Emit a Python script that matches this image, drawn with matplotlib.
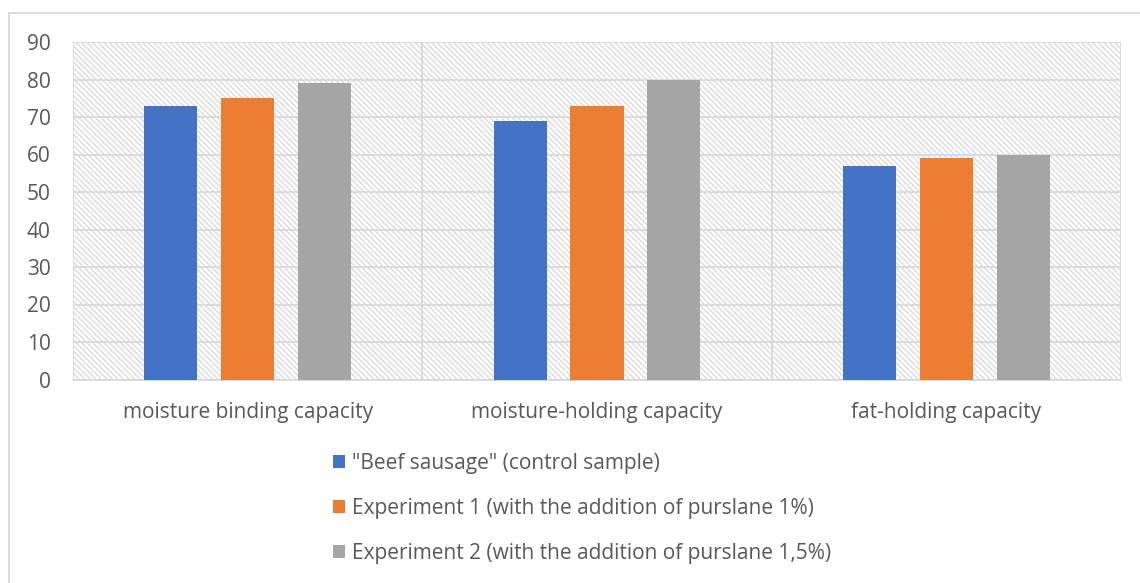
import matplotlib
matplotlib.use("Agg")
import matplotlib.pyplot as plt
import numpy as np
from matplotlib.patches import Rectangle, Patch
from matplotlib.lines import Line2D

categories = ["moisture binding capacity", "moisture-holding capacity", "fat-holding capacity"]
series_names = ['"Beef sausage" (control sample)',
                "Experiment 1 (with the addition of purslane 1%)",
                "Experiment 2 (with the addition of purslane 1,5%)"]
control = [73, 69, 57]
experiment1 = [75, 73, 59]
experiment2 = [79, 80, 60]
y_ticks = [0, 10, 20, 30, 40, 50, 60, 70, 80, 90]

colors = ["#4472C4", "#ED7D31", "#A5A5A5"]
grid_color = "#D9D9D9"
text_color = "#595959"

plt.rcParams["font.family"] = ["Open Sans", "DejaVu Sans"]
plt.rcParams["hatch.linewidth"] = 0.9

W, H = 1140, 583
fig = plt.figure(figsize=(W / 100, H / 100), dpi=100)
ax = fig.add_axes([73 / W, 1 - 379.5 / H, (1121 - 73) / W, (379.5 - 42) / H])

# hatched plot-area background
bg = Rectangle((0, 0), 1, 1, transform=ax.transAxes, facecolor="white",
               edgecolor="#D8D8D8", hatch="\\" * 6, linewidth=0, zorder=0)
ax.add_patch(bg)

x = np.arange(len(categories))
width = 0.152
step = 0.22
for i, vals in enumerate([control, experiment1, experiment2]):
    ax.bar(x + (i - 1) * step, vals, width=width, color=colors[i], zorder=3)

ax.set_xlim(-0.5, 2.5)
ax.set_ylim(0, 90)
ax.set_yticks(y_ticks)
ax.set_xticks(x)
ax.set_xticklabels(categories)
ax.set_xticks([-0.5, 0.5, 1.5, 2.5], minor=True)

ax.yaxis.grid(True, which="major", color=grid_color, linewidth=1.3, zorder=1)
ax.xaxis.grid(True, which="minor", color=grid_color, linewidth=1.3, zorder=1)
ax.xaxis.grid(False, which="major")
ax.set_axisbelow(True)

for s in ["top", "right", "left"]:
    ax.spines[s].set_visible(False)
ax.spines["bottom"].set_color(grid_color)
ax.spines["bottom"].set_linewidth(1.3)

ax.tick_params(axis="both", which="both", length=0, colors=text_color, labelsize=15)
ax.tick_params(axis="y", pad=16)
ax.tick_params(axis="x", pad=16)

handles = [Patch(facecolor=c, edgecolor="none") for c in colors]
fig.legend(handles, series_names, loc="upper left",
           bbox_to_anchor=(333 / W, 1 - 453 / H), frameon=False,
           handlelength=0.58, handleheight=0.58, handletextpad=0.34,
           labelspacing=1.15, fontsize=15, labelcolor=text_color,
           borderpad=0, borderaxespad=0)

# chart-area frame
fig.add_artist(Line2D([8.5 / W, 8.5 / W], [0, 1 - 13 / H], transform=fig.transFigure,
                      color=grid_color, linewidth=1.3))
fig.add_artist(Line2D([8.5 / W, 1], [1 - 13 / H, 1 - 13 / H], transform=fig.transFigure,
                      color=grid_color, linewidth=1.3))

fig.savefig("out.png", dpi=100)
